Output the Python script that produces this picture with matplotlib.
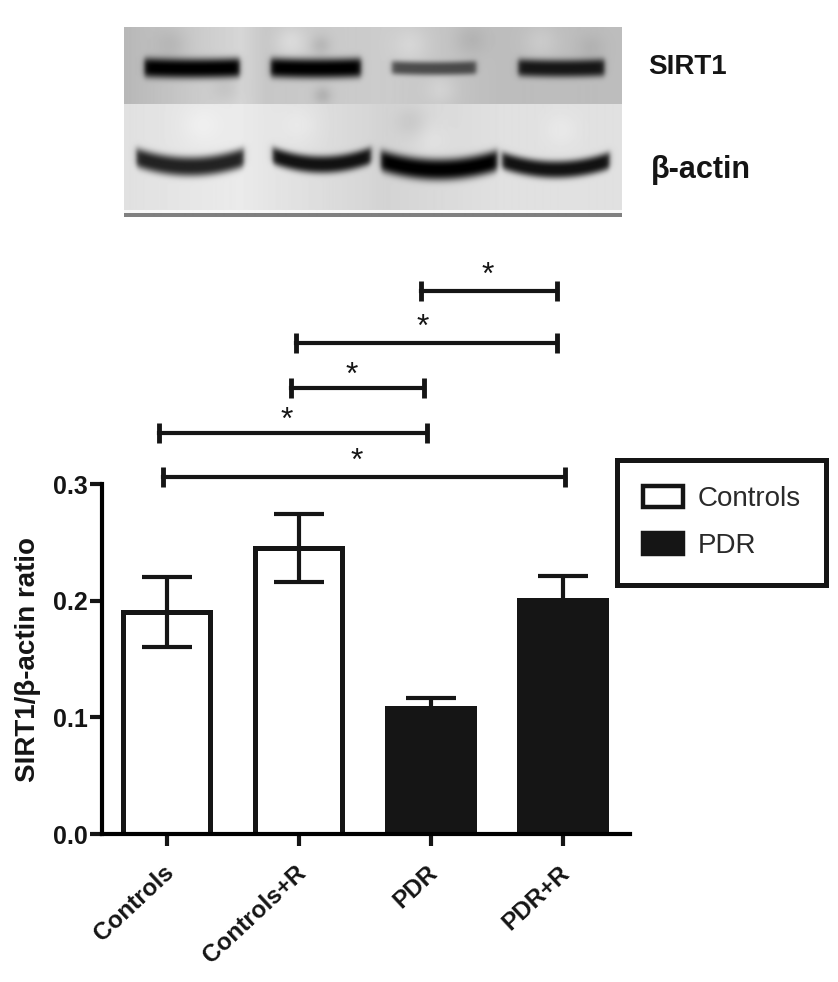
import numpy as np
import matplotlib
matplotlib.use('Agg')
import matplotlib.pyplot as plt
from matplotlib.patches import Patch
from matplotlib.transforms import ScaledTranslation

plt.rcParams['font.family'] = ['Liberation Sans', 'DejaVu Sans']

# bar data
groups = ['Controls', 'Controls+R', 'PDR', 'PDR+R']
means = [0.19, 0.245, 0.108, 0.201]
errors = [0.03, 0.029, 0.009, 0.020]
fills = ['white', 'white', '#151515', '#151515']

# significance brackets (in bar/axis units)
bracket_left = [1.93, 0.98, 0.94, -0.06, -0.03]
bracket_right = [2.96, 2.96, 1.95, 1.97, 3.02]
bracket_y = [0.465, 0.421, 0.382, 0.344, 0.306]
star_x = [2.43, 1.94, 1.40, 0.91, 1.44]
star_y = [0.478, 0.434, 0.393, 0.354, 0.319]

# blot: lane edges and bands, in pixels of the picture
lane_edges = [124, 240, 265, 385, 500, 621]
upper_grey = [0.72, 0.84, 0.78, 0.80, 0.74]
lower_grey = [0.88, 0.92, 0.90, 0.83, 0.88]
sirt1_left = [144, 270, 391, 517]
sirt1_right = [239, 360, 475, 603]
sirt1_dark = [1.0, 1.0, 0.62, 0.88]
sirt1_width = [10, 10, 7, 9]
actin_left = [136, 272, 380, 501]
actin_right = [243, 370, 496, 608]
actin_y = [157, 155, 160, 160]
actin_dark = [0.85, 0.92, 1.0, 0.92]
actin_width = [10, 9, 11, 9]

# smudges on the membrane: x, y, radius, change of grey
smudge_x = [170, 225, 290, 320, 322, 410, 440, 470, 540, 590, 410, 430, 200, 300, 560]
smudge_y = [45, 88, 42, 45, 95, 45, 90, 40, 42, 48, 122, 140, 125, 125, 130]
smudge_r = [16, 14, 16, 10, 9, 18, 16, 16, 18, 14, 16, 18, 20, 20, 18]
smudge_d = [-0.05, -0.05, 0.07, -0.07, -0.09, 0.05, 0.05, -0.05, 0.05, -0.04, -0.05, 0.03, 0.03, 0.03, 0.03]

W, H = 838, 982


def band(xx, yy, x0, x1, yc, curve, sigma, dark):
    mid = (x0 + x1) / 2
    half = (x1 - x0) / 2
    centre = yc + curve * (1 - ((xx - mid) / half) ** 2)
    across = 0.5 * (np.tanh((xx - x0) / 3) - np.tanh((xx - x1) / 3))
    return 1 - dark * across * np.exp(-np.abs((yy - centre) / sigma) ** 3)


def make_blot():
    xs = np.arange(124, 621)
    ys = np.arange(27, 219)
    xx, yy = np.meshgrid(xs, ys)
    top = np.interp(xs, lane_edges[:-1], upper_grey)
    bot = np.interp(xs, lane_edges[:-1], lower_grey)
    img = np.where(yy < 104, top[None, :], bot[None, :]).astype(float)
    for i in range(len(smudge_x)):
        blob = np.exp(-((xx - smudge_x[i]) ** 2 + (yy - smudge_y[i]) ** 2) / smudge_r[i] ** 2)
        side = (yy < 104) == (smudge_y[i] < 104)
        img += smudge_d[i] * blob * side
    for i in range(4):
        img *= band(xx, yy, sirt1_left[i], sirt1_right[i], 67, 1, sirt1_width[i], sirt1_dark[i])
        img *= band(xx, yy, actin_left[i], actin_right[i], actin_y[i], 9, actin_width[i], actin_dark[i])
    img[yy >= 210] = 0.97
    img[yy >= 213] = 0.5
    img[yy >= 217] = 1.0
    return img


fig = plt.figure(figsize=(W / 100, H / 100), dpi=100)

ax_blot = fig.add_axes([124 / W, 1 - 219 / H, 497 / W, 192 / H])
ax_blot.imshow(make_blot(), cmap='gray', vmin=0, vmax=1, aspect='auto', interpolation='bilinear')
ax_blot.axis('off')

fig.text(648 / W, 1 - 67 / H, 'SIRT1', fontsize=20, fontweight='bold', va='center', color='#151515')
fig.text(651 / W, 1 - 170 / H, 'β-actin', fontsize=22, fontweight='bold', va='center', color='#151515')

ax = fig.add_axes([102 / W, 1 - 834 / H, 528 / W, 350 / H])
pos = np.arange(len(groups))
ax.bar(pos, means, width=0.655, color=fills, edgecolor='#151515', linewidth=3.6, zorder=2)
ax.errorbar(pos, means, yerr=errors, fmt='none', ecolor='#151515', elinewidth=3,
            capsize=18, capthick=3, zorder=3)
ax.set_xlim(-0.489, 3.511)
ax.set_ylim(0, 0.3)
ax.set_yticks([0.0, 0.1, 0.2, 0.3])
ax.set_yticklabels(['0.0', '0.1', '0.2', '0.3'], fontsize=18, fontweight='bold')
ax.set_xticks(pos)
ax.set_xticklabels(groups, fontsize=17.5, fontweight='bold', rotation=43, ha='right',
                   rotation_mode='anchor')
ax.tick_params(axis='both', length=8.5, width=3, color='#151515', labelcolor='#151515')
ax.tick_params(axis='x', pad=11)
ax.tick_params(axis='y', pad=2)
shift = ScaledTranslation(-4 / 100, 0, fig.dpi_scale_trans)
for lab in ax.get_xticklabels():
    lab.set_transform(lab.get_transform() + shift)
ax.spines['top'].set_visible(False)
ax.spines['right'].set_visible(False)
ax.spines['left'].set_linewidth(3)
ax.spines['bottom'].set_linewidth(3)
ax.set_ylabel('SIRT1/β-actin ratio', fontsize=20, fontweight='bold', color='#151515')
ax.yaxis.set_label_coords(-0.115, 0.5)

for i in range(len(bracket_y)):
    ax.plot([bracket_left[i], bracket_right[i]], [bracket_y[i], bracket_y[i]], color='#151515',
            lw=3, marker='|', ms=15, mew=3.5, clip_on=False, zorder=3)
    ax.text(star_x[i], star_y[i], '*', fontsize=23, ha='center', va='center', color='#151515')

handles = [Patch(facecolor='white', edgecolor='#151515', linewidth=3.2, label='Controls'),
           Patch(facecolor='#151515', edgecolor='#151515', linewidth=3.2, label='PDR')]
leg = fig.legend(handles=handles, loc='upper left', bbox_to_anchor=(617 / W, 1 - 460 / H),
                 borderaxespad=0, fontsize=20, frameon=True, fancybox=False, edgecolor='#151515',
                 framealpha=1, borderpad=0.92, handlelength=1.47, handleheight=0.82,
                 handletextpad=0.5, labelspacing=0.75, labelcolor='#2a2a2a')
leg.get_frame().set_linewidth(3.6)

fig.savefig('out.png', dpi=100)
